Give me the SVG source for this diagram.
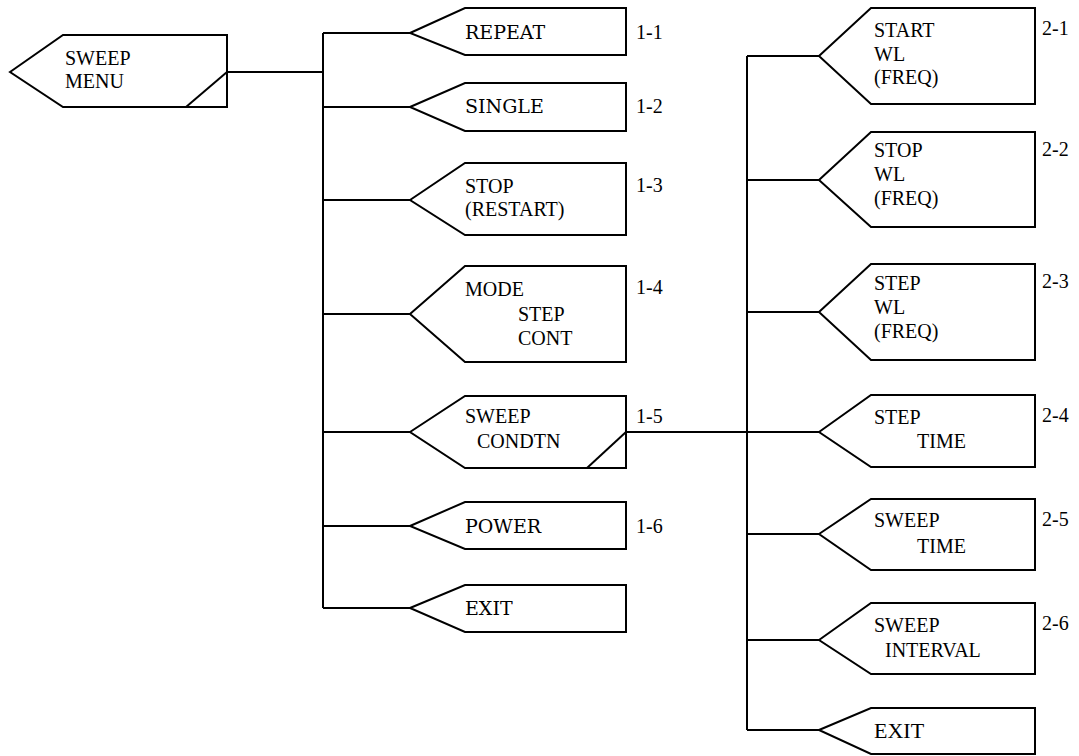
<svg xmlns="http://www.w3.org/2000/svg" width="1079" height="756" viewBox="0 0 1079 756" font-family="Liberation Serif, Times New Roman, DejaVu Serif, serif" font-size="20">
<style>
.n{fill:#fff;stroke:#000;stroke-width:2;stroke-linejoin:miter}
.c{fill:none;stroke:#000;stroke-width:2}
text{fill:#000}
</style>
<rect width="1079" height="756" fill="#fff"/>
<g id="connectors">
<path class="c" d="M227,72H323M323,33V608M323,33H410M323,107H410M323,200H410M323,314H410M323,432H410M323,526H410M323,608H410"/>
<path class="c" d="M747,56V730M747,56H819M747,180H819M747,312H819M626,432H819M747,534H819M747,640H819M747,730H819"/>
</g>
<g id="sweep-menu">
<polygon class="n" points="10,72 63,35 227,35 227,107 63,107"/>
<path class="c" d="M186,107L227,72"/>
<text x="65" y="65">SWEEP</text><text x="65" y="88">MENU</text>
</g>
<g id="repeat">
<polygon class="n" points="410,33 465,8 626,8 626,55 465,55"/>
<text x="465" y="39" font-family="DejaVu Serif, Liberation Serif, serif" font-size="19">REPEAT</text><text x="636" y="39">1-1</text>
</g>
<g id="single">
<polygon class="n" points="410,107 465,83 626,83 626,131 465,131"/>
<text x="465" y="113" font-family="DejaVu Serif, Liberation Serif, serif" font-size="19">SINGLE</text><text x="636" y="113">1-2</text>
</g>
<g id="stop-restart">
<polygon class="n" points="410,200 465,163 626,163 626,235 465,235"/>
<text x="465" y="193">STOP</text><text x="465" y="216">(RESTART)</text><text x="636" y="192">1-3</text>
</g>
<g id="mode">
<polygon class="n" points="410,314 465,266 626,266 626,362 465,362"/>
<text x="465" y="296">MODE</text><text x="518" y="321">STEP</text><text x="518" y="345">CONT</text><text x="636" y="294">1-4</text>
</g>
<g id="sweep-condtn">
<polygon class="n" points="410,432 465,396 626,396 626,468 465,468"/>
<path class="c" d="M587,468L626,432"/>
<text x="465" y="423">SWEEP</text><text x="477" y="448">CONDTN</text><text x="636" y="423">1-5</text>
</g>
<g id="power">
<polygon class="n" points="410,526 465,502 626,502 626,549 465,549"/>
<text x="465" y="533" font-family="DejaVu Serif, Liberation Serif, serif" font-size="19">POWER</text><text x="636" y="533">1-6</text>
</g>
<g id="exit-1">
<polygon class="n" points="410,608 465,585 626,585 626,632 465,632"/>
<text x="465" y="615" font-family="DejaVu Serif, Liberation Serif, serif" font-size="19">EXIT</text>
</g>
<g id="start-wl">
<polygon class="n" points="819,56 871,8 1035,8 1035,104 871,104"/>
<text x="874" y="37">START</text><text x="874" y="61">WL</text><text x="874" y="84">(FREQ)</text><text x="1042" y="35">2-1</text>
</g>
<g id="stop-wl">
<polygon class="n" points="819,180 871,132 1035,132 1035,227 871,227"/>
<text x="874" y="157">STOP</text><text x="874" y="181">WL</text><text x="874" y="205">(FREQ)</text><text x="1042" y="156">2-2</text>
</g>
<g id="step-wl">
<polygon class="n" points="819,312 871,264 1035,264 1035,360 871,360"/>
<text x="874" y="290">STEP</text><text x="874" y="314">WL</text><text x="874" y="338">(FREQ)</text><text x="1042" y="288">2-3</text>
</g>
<g id="step-time">
<polygon class="n" points="819,432 871,395 1035,395 1035,467 871,467"/>
<text x="874" y="424">STEP</text><text x="917" y="448">TIME</text><text x="1042" y="422">2-4</text>
</g>
<g id="sweep-time">
<polygon class="n" points="819,534 871,499 1035,499 1035,570 871,570"/>
<text x="874" y="527">SWEEP</text><text x="917" y="553">TIME</text><text x="1042" y="526">2-5</text>
</g>
<g id="sweep-interval">
<polygon class="n" points="819,640 871,603 1035,603 1035,674 871,674"/>
<text x="874" y="632">SWEEP</text><text x="885" y="657">INTERVAL</text><text x="1042" y="630">2-6</text>
</g>
<g id="exit-2">
<polygon class="n" points="819,730 871,708 1035,708 1035,754 871,754"/>
<text x="874" y="738" font-size="22">EXIT</text>
</g>
</svg>
